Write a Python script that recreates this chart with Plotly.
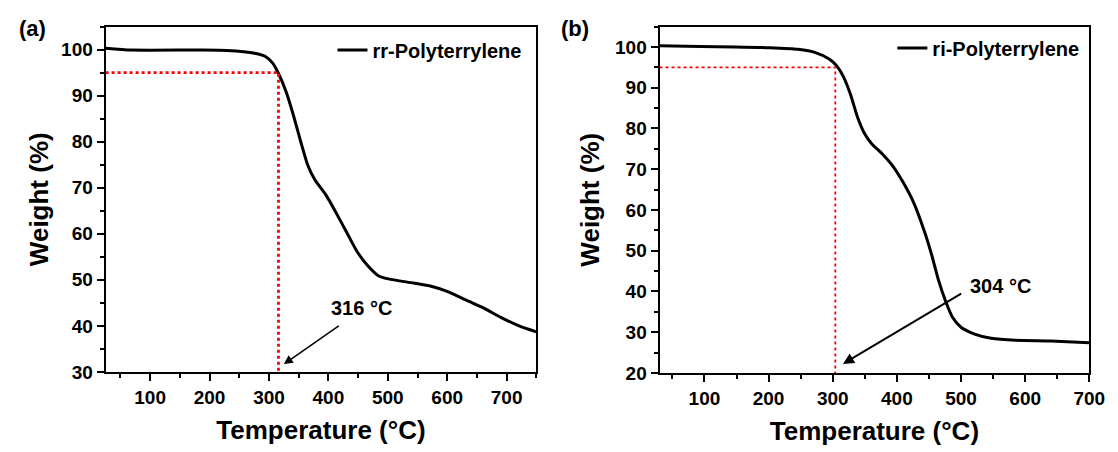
import plotly.graph_objects as go

# ---- data ----
temp_rr = [25, 69, 187, 229, 276, 294, 306, 316, 329, 341, 353, 365, 377, 395, 412,
           430, 448, 466, 484, 501, 543, 573, 602, 632, 661, 691, 721, 750]
weight_rr = [100.3, 99.9, 99.9, 99.8, 99.2, 98.5, 97.1, 94.8, 90.8, 85.8, 80.2, 75.0, 71.8, 68.6, 64.8,
             60.5, 56.2, 53.1, 50.9, 50.2, 49.3, 48.6, 47.4, 45.6, 43.9, 41.8, 40.0, 38.7]

temp_ri = [30, 93, 148, 202, 246, 273, 295, 306, 317, 328, 339, 350, 361, 377, 394,
           410, 427, 443, 454, 465, 476, 487, 500, 520, 547, 585, 640, 700]
weight_ri = [100.3, 100.1, 100.0, 99.8, 99.4, 98.6, 97.0, 95.4, 92.6, 88.2, 82.6, 78.6, 76.2, 73.8, 70.7,
             66.7, 61.5, 54.7, 49.1, 42.7, 37.6, 33.6, 31.2, 29.6, 28.5, 28.0, 27.8, 27.4]

label_rr = "rr-Polyterrylene"
label_ri = "ri-Polyterrylene"
onset_rr = 316
onset_ri = 304
loss_level = 95
xrange_rr = [25, 750]
xrange_ri = [30, 700]
yrange_rr = [30, 105]
yrange_ri = [20, 105]

x_ticks = [100, 200, 300, 400, 500, 600, 700]
x_minor = [50, 150, 250, 350, 450, 550, 650, 750]
y_ticks_rr = [30, 40, 50, 60, 70, 80, 90, 100]
y_ticks_ri = [20, 30, 40, 50, 60, 70, 80, 90, 100]
y_minor = [25, 35, 45, 55, 65, 75, 85, 95, 105]

FONT = "Arial, Liberation Sans, sans-serif"

fig = go.Figure()

fig.add_trace(go.Scatter(x=temp_rr, y=weight_rr, mode="lines", name=f"<b>{label_rr}</b>",
                         line=dict(color="black", width=3, shape="spline", smoothing=0.6),
                         xaxis="x", yaxis="y", legend="legend"))
fig.add_trace(go.Scatter(x=temp_ri, y=weight_ri, mode="lines", name=f"<b>{label_ri}</b>",
                         line=dict(color="black", width=3, shape="spline", smoothing=0.6),
                         xaxis="x2", yaxis="y2", legend="legend2"))

# red dotted guide lines (5% weight loss)
fig.add_trace(go.Scatter(x=[xrange_rr[0], onset_rr, onset_rr], y=[loss_level, loss_level, yrange_rr[0]],
                         mode="lines", line=dict(color="#ff0000", width=2.8, dash="dot"),
                         showlegend=False, hoverinfo="skip", xaxis="x", yaxis="y"))
fig.add_trace(go.Scatter(x=[xrange_ri[0], onset_ri, onset_ri], y=[loss_level, loss_level, yrange_ri[0]],
                         mode="lines", line=dict(color="#ff0000", width=1.8, dash="dot"),
                         showlegend=False, hoverinfo="skip", xaxis="x2", yaxis="y2"))

axis_common = dict(showline=True, linecolor="black", linewidth=2, mirror=True,
                   ticks="outside", ticklen=7, tickwidth=2, tickcolor="black",
                   showgrid=False, zeroline=False, tickmode="array",
                   tickfont=dict(family=FONT, size=19, color="black"))
minor_common = dict(ticks="outside", ticklen=4, tickwidth=2, tickcolor="black", tickmode="array")

ytitle = dict(text="<b>Weight (%)</b>", font=dict(family=FONT, size=26, color="black"))
xtitle = dict(text="<b>Temperature (°C)</b>", font=dict(family=FONT, size=26, color="black"))


def bold(vals):
    return [f"<b>{v}</b>" for v in vals]


fig.update_layout(
    width=1118, height=452,
    margin=dict(l=0, r=0, t=0, b=0),
    paper_bgcolor="white", plot_bgcolor="white",
    showlegend=True,
    xaxis=dict(domain=[99/1118, 536/1118], range=xrange_rr,
               tickvals=x_ticks, ticktext=bold(x_ticks),
               minor=dict(tickvals=x_minor, **minor_common),
               title=dict(**xtitle, standoff=14), anchor="y", **axis_common),
    yaxis=dict(domain=[1-373/452, 1-19/452], range=yrange_rr,
               tickvals=y_ticks_rr, ticktext=bold(y_ticks_rr),
               minor=dict(tickvals=y_minor, **minor_common),
               title=dict(**ytitle, standoff=5), anchor="x", **axis_common),
    xaxis2=dict(domain=[661/1118, 1097/1118], range=xrange_ri,
                tickvals=x_ticks, ticktext=bold(x_ticks),
                minor=dict(tickvals=x_minor, **minor_common),
                title=dict(**xtitle, standoff=14), anchor="y2", **axis_common),
    yaxis2=dict(domain=[1-374/452, 1-19/452], range=yrange_ri,
                tickvals=y_ticks_ri, ticktext=bold(y_ticks_ri),
                minor=dict(tickvals=y_minor, **minor_common),
                title=dict(**ytitle, standoff=8), anchor="x2", **axis_common),
    legend=dict(x=526/1118, y=1-43/452, xanchor="right", yanchor="middle",
                bgcolor="rgba(0,0,0,0)", borderwidth=0, itemwidth=30,
                font=dict(family=FONT, size=20, color="black")),
    legend2=dict(x=1092/1118, y=1-41/452, xanchor="right", yanchor="middle",
                 bgcolor="rgba(0,0,0,0)", borderwidth=0, itemwidth=30,
                 font=dict(family=FONT, size=20, color="black")),
)

annos = [
    dict(text="<b>(a)</b>", x=25/1118, y=1-21/452, xref="paper", yref="paper",
         xanchor="center", yanchor="middle",
         showarrow=False, font=dict(family=FONT, size=22, color="black")),
    dict(text="<b>(b)</b>", x=575/1118, y=1-21/452, xref="paper", yref="paper",
         xanchor="center", yanchor="middle",
         showarrow=False, font=dict(family=FONT, size=22, color="black")),
    dict(text=f"<b>{onset_rr} °C</b>", x=456, y=43.8, xref="x", yref="y",
         xanchor="center", yanchor="middle",
         showarrow=False, font=dict(family=FONT, size=20, color="black")),
    dict(text=f"<b>{onset_ri} °C</b>", x=562, y=41.3, xref="x2", yref="y2",
         xanchor="center", yanchor="middle",
         showarrow=False, font=dict(family=FONT, size=20, color="black")),
    dict(text="", x=325, y=31.7, ax=420, ay=40.2, xref="x", yref="y", axref="x", ayref="y",
         showarrow=True, arrowhead=2, arrowsize=1.2, arrowwidth=1.5, arrowcolor="black"),
    dict(text="", x=316, y=22.2, ax=502.6, ay=39.7, xref="x2", yref="y2", axref="x2", ayref="y2",
         showarrow=True, arrowhead=2, arrowsize=1.1, arrowwidth=2, arrowcolor="black"),
]
fig.update_layout(annotations=annos)

fig.write_html("out.html")
